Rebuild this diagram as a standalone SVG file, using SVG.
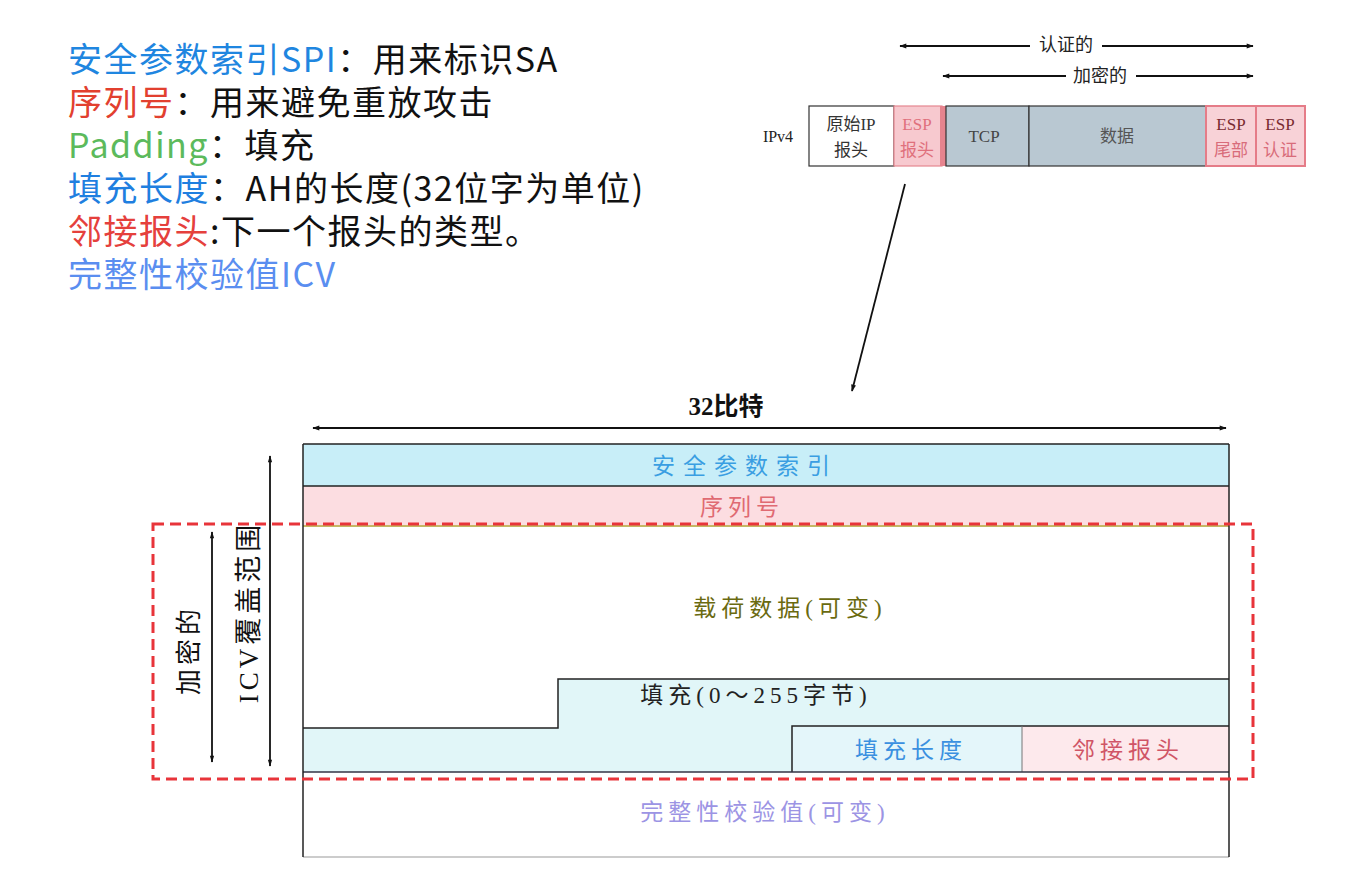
<svg xmlns="http://www.w3.org/2000/svg" width="1362" height="874" viewBox="0 0 1362 874">
<style>
.note{font-family:"Noto Sans CJK SC","Noto Sans",sans-serif;font-size:34px;letter-spacing:1.5px;fill:#111}
.cell{font-family:"Liberation Serif","Noto Sans CJK SC",serif;font-size:17px;text-anchor:middle}
.fld{font-family:"Liberation Serif","Noto Sans CJK SC",serif;font-size:23px;text-anchor:middle;letter-spacing:5px}
.ln{stroke:#222;stroke-width:1.5;fill:none}
.arr{stroke:#111;stroke-width:1.8;fill:none}
</style>
<defs>
<marker id="ah" viewBox="0 0 10 10" refX="9" refY="5" markerWidth="9" markerHeight="7" orient="auto-start-reverse" markerUnits="userSpaceOnUse">
<path d="M0,1.5 L10,5 L0,8.5 Z" fill="#111"/>
</marker>
<marker id="ahv" viewBox="0 0 10 10" refX="9" refY="5" markerWidth="18" markerHeight="7" orient="auto-start-reverse" markerUnits="userSpaceOnUse">
<path d="M0,2 L10,5 L0,8 Z" fill="#111"/>
</marker>
</defs>
<rect width="1362" height="874" fill="#ffffff"/>

<g id="notes">
<text class="note" x="68" y="72"><tspan fill="#1f86e0">安全参数索引SPI</tspan>：用来标识SA</text>
<text class="note" x="68" y="115"><tspan fill="#e2402f">序列号</tspan>：用来避免重放攻击</text>
<text class="note" x="68" y="158"><tspan fill="#5cba5c">Padding</tspan>：填充</text>
<text class="note" x="68" y="201"><tspan fill="#1f7fe0">填充长度</tspan>：AH的长度(32位字为单位)</text>
<text class="note" x="68" y="244"><tspan fill="#e5403c">邻接报头</tspan>:下一个报头的类型。</text>
<text class="note" x="68" y="287"><tspan fill="#5a8ef0">完整性校验值ICV</tspan></text>
</g>

<g id="packet">
<text class="cell" x="778" y="142" fill="#222" style="font-size:16px">IPv4</text>
<rect x="809" y="106" width="85" height="60" fill="#ffffff" stroke="#333" stroke-width="1.2"/>
<text class="cell" x="851" y="130" fill="#333">原始IP</text>
<text class="cell" x="851" y="156" fill="#333">报头</text>
<rect x="894" y="106" width="48" height="60" fill="#f7c9cf" stroke="#e58790" stroke-width="1.2"/>
<rect x="940" y="106" width="6" height="60" fill="#e6848e"/>
<text class="cell" x="917" y="130" fill="#e0707c">ESP</text>
<text class="cell" x="917" y="156" fill="#e0707c">报头</text>
<rect x="946" y="106" width="83" height="60" fill="#b9c8d2" stroke="#333" stroke-width="1.2"/>
<text class="cell" x="984" y="142" fill="#444">TCP</text>
<rect x="1029" y="106" width="177" height="60" fill="#b9c8d2" stroke="#333" stroke-width="1.2"/>
<text class="cell" x="1117" y="142" fill="#555">数据</text>
<rect x="1206" y="106" width="50" height="60" fill="#f8d2d7" stroke="#e57c88" stroke-width="2"/>
<text class="cell" x="1231" y="130" fill="#7a2a30">ESP</text>
<text class="cell" x="1231" y="156" fill="#d86c7a">尾部</text>
<rect x="1256" y="106" width="49" height="60" fill="#f8d2d7" stroke="#e57c88" stroke-width="2"/>
<text class="cell" x="1280" y="130" fill="#7a2a30">ESP</text>
<text class="cell" x="1280" y="156" fill="#d86c7a">认证</text>
</g>

<g id="range-labels">
<text class="cell" x="1066" y="51" fill="#222" style="font-size:18px">认证的</text>
<text class="cell" x="1100" y="82" fill="#222" style="font-size:18px">加密的</text>
<text class="fld" x="726" y="415" fill="#111" style="font-size:25px;letter-spacing:0;font-weight:bold">32比特</text>
<text class="fld" transform="translate(258,612) rotate(-90)" fill="#111" style="font-size:27px;letter-spacing:4px">ICV覆盖范围</text>
<text class="fld" transform="translate(198,650) rotate(-90)" fill="#111" style="font-size:26px;letter-spacing:4px">加密的</text>
</g>

<g id="esp-format">
<rect x="303" y="444" width="926" height="42" fill="#c8eef8"/>
<rect x="303" y="486" width="926" height="39" fill="#fcdde1"/>
<path d="M303,728 L558,728 L558,679 L1229,679 L1229,772 L303,772 Z" fill="#e1f6f8"/>
<rect x="792" y="726" width="230" height="46" fill="#e4f6fa"/>
<rect x="1022" y="726" width="207" height="46" fill="#fde9ec"/>
<line class="ln" x1="303" y1="444" x2="1229" y2="444"/>
<line class="ln" x1="303" y1="486" x2="1229" y2="486"/>
<line x1="303" y1="526" x2="1229" y2="526" stroke="#b0a030" stroke-width="1.5"/>
<path class="ln" d="M303,728 L558,728 L558,679 L1229,679"/>
<path class="ln" d="M792,772 L792,726 L1229,726"/>
<line x1="1022" y1="726" x2="1022" y2="772" stroke="#777" stroke-width="1"/>
<line x1="303" y1="772" x2="1229" y2="772" stroke="#334" stroke-width="1.5"/>
<line x1="303" y1="857" x2="1229" y2="857" stroke="#999" stroke-width="1"/>
<line class="ln" x1="303" y1="444" x2="303" y2="857"/>
<line class="ln" x1="1229" y1="444" x2="1229" y2="857"/>
<text class="fld" x="745" y="474" fill="#3a9ee2" style="letter-spacing:8px">安全参数索引</text>
<text class="fld" x="742" y="515" fill="#e06a72">序列号</text>
<text class="fld" x="790" y="616" fill="#6a6a10">载荷数据(可变)</text>
<text class="fld" x="756" y="703" fill="#222">填充(0～255字节)</text>
<text class="fld" x="911" y="758" fill="#3a90e0">填充长度</text>
<text class="fld" x="1128" y="758" fill="#d05566">邻接报头</text>
<text class="fld" x="765" y="820" fill="#9c94e4">完整性校验值(可变)</text>
</g>

<g id="encrypted-region">
<rect x="153" y="524" width="1100" height="255" fill="none" stroke="#e8343a" stroke-width="3" stroke-dasharray="11 6"/>
</g>

<g id="connectors">
<line class="arr" x1="900" y1="46" x2="1030" y2="46" marker-start="url(#ah)"/>
<line class="arr" x1="1102" y1="46" x2="1253" y2="46" marker-end="url(#ah)"/>
<line class="arr" x1="943" y1="76" x2="1066" y2="76" marker-start="url(#ah)"/>
<line class="arr" x1="1136" y1="76" x2="1253" y2="76" marker-end="url(#ah)"/>
<line class="arr" x1="905" y1="184" x2="852" y2="391" marker-end="url(#ah)"/>
<line class="arr" x1="313" y1="428" x2="1226" y2="428" marker-start="url(#ah)" marker-end="url(#ah)"/>
<line class="arr" x1="270" y1="456" x2="270" y2="766" marker-start="url(#ahv)" marker-end="url(#ahv)"/>
<line class="arr" x1="212" y1="532" x2="212" y2="762" marker-start="url(#ahv)" marker-end="url(#ahv)"/>
</g>
</svg>
